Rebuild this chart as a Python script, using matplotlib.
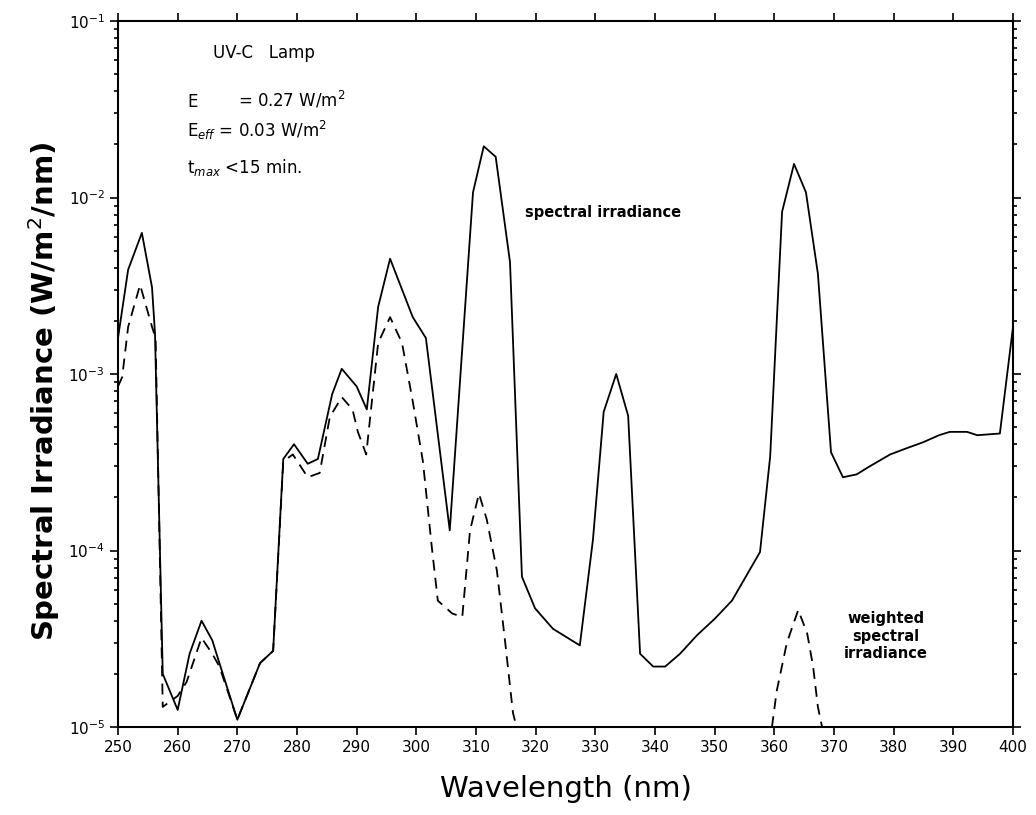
import matplotlib
matplotlib.use("Agg")
import matplotlib.pyplot as plt
from matplotlib.ticker import LogLocator, MultipleLocator
import numpy as np

# spectral irradiance of the UV-C lamp (W/m^2/nm)
wl_total = [250, 251.7, 254, 255.7, 256.2, 257.5, 260, 262, 264, 265.8, 267,
            270, 273.8, 276, 277.7, 279.5, 281.8, 283.5, 285.9, 287.5, 290,
            291.7, 293.6, 295.6, 299.4, 301.6, 305.6, 309.5, 311.3, 313.3,
            315.7, 317.7, 319.9, 322.9, 327.4, 329.6, 331.4, 333.5, 335.5,
            337.5, 339.7, 341.7, 344.2, 347, 350, 352.9, 357.6, 359.3, 361.3,
            363.3, 365.3, 367.3, 369.5, 371.5, 373.8, 376, 379.4, 382.2,
            384.9, 387.6, 389.4, 392.3, 394, 397.8, 400]
irr_total = [1.6e-3, 3.9e-3, 6.3e-3, 3.1e-3, 1.7e-3, 2.0e-5, 1.25e-5, 2.6e-5,
             4.0e-5, 3.1e-5, 2.3e-5, 1.1e-5, 2.3e-5, 2.7e-5, 3.3e-4, 4.0e-4,
             3.1e-4, 3.3e-4, 7.7e-4, 1.07e-3, 8.5e-4, 6.3e-4, 2.4e-3, 4.5e-3,
             2.1e-3, 1.6e-3, 1.3e-4, 1.07e-2, 1.95e-2, 1.7e-2, 4.3e-3, 7.1e-5,
             4.7e-5, 3.6e-5, 2.9e-5, 1.15e-4, 6.1e-4, 1.0e-3, 5.8e-4, 2.6e-5,
             2.2e-5, 2.2e-5, 2.6e-5, 3.3e-5, 4.1e-5, 5.2e-5, 9.8e-5, 3.4e-4,
             8.3e-3, 1.55e-2, 1.07e-2, 3.7e-3, 3.6e-4, 2.6e-4, 2.7e-4, 3.0e-4,
             3.5e-4, 3.8e-4, 4.1e-4, 4.5e-4, 4.7e-4, 4.7e-4, 4.5e-4, 4.6e-4,
             1.85e-3]

# weighted (effective) spectral irradiance, two visible pieces
wl_weighted_a = [250, 250.7, 251.7, 253.7, 255.7, 256.3, 257.5, 260, 261.5,
                 264, 265.8, 267, 270, 273.8, 276, 277.7, 279.3, 281.8, 283.8,
                 285.5, 287.5, 289.3, 290.2, 291.6, 293.6, 295.6, 297.6, 299.4,
                 301.1, 302.6, 303.6, 306, 307.7, 309, 310.5, 311.8, 313.5,
                 314.9, 316.2, 316.8]
irr_weighted_a = [8.5e-4, 9.6e-4, 1.85e-3, 3.2e-3, 1.85e-3, 1.6e-3, 1.3e-5,
                  1.5e-5, 1.8e-5, 3.2e-5, 2.6e-5, 2.2e-5, 1.1e-5, 2.3e-5,
                  2.7e-5, 3.2e-4, 3.5e-4, 2.6e-4, 2.75e-4, 5.7e-4, 7.4e-4,
                  6.3e-4, 4.7e-4, 3.5e-4, 1.5e-3, 2.1e-3, 1.5e-3, 7.0e-4,
                  3.2e-4, 1.04e-4, 5.2e-5, 4.4e-5, 4.2e-5, 1.3e-4, 2.1e-4,
                  1.5e-4, 7.7e-5, 3.0e-5, 1.2e-5, 1.0e-5]
wl_weighted_b = [359.6, 360.4, 362.1, 364, 365.5, 366.5, 367.3, 368]
irr_weighted_b = [1.0e-5, 1.6e-5, 3.0e-5, 4.6e-5, 3.4e-5, 2.2e-5, 1.3e-5, 1.0e-5]

W, H = 1036, 815
fig = plt.figure(figsize=(W / 100, H / 100), dpi=100)
ax = fig.add_axes([118 / W, 1 - 727 / H, (1013 - 118) / W, (727 - 21) / H])

ax.plot(wl_total, irr_total, color="black", lw=1.3)
for wl, irr in [(wl_weighted_a, irr_weighted_a), (wl_weighted_b, irr_weighted_b)]:
    ax.plot(wl, irr, color="black", lw=1.3, linestyle=(0, (6, 4)))

ax.set_yscale("log")
ax.set_xlim(250, 400)
ax.set_ylim(1e-5, 1e-1)
ax.xaxis.set_major_locator(MultipleLocator(10))
ax.yaxis.set_major_locator(LogLocator(base=10, numticks=10))
ax.yaxis.set_minor_locator(LogLocator(base=10, subs=np.arange(2, 10), numticks=10))
ax.tick_params(which="both", direction="out", top=True, right=True,
               labeltop=False, labelright=False, width=1.2)
ax.tick_params(which="major", length=6, labelsize=11)
ax.tick_params(which="minor", length=3)
for s in ax.spines.values():
    s.set_linewidth(1.5)

ax.set_xlabel("Wavelength (nm)", fontsize=21, labelpad=14)
ax.set_ylabel("Spectral Irradiance (W/m$^2$/nm)", fontsize=21,
              fontweight="bold")
ax.yaxis.set_label_coords(-0.063, 0.475)


def ftext(x, y, s, **kw):
    fig.text(x / W, 1 - y / H, s, **kw)


ftext(213, 58, "UV-C   Lamp", fontsize=12, va="baseline")
ftext(187, 107, "E", fontsize=12, va="baseline")
ftext(238, 107, "= 0.27 W/m$^2$", fontsize=12, va="baseline")
ftext(187, 137, "E$_{eff}$ = 0.03 W/m$^2$", fontsize=12, va="baseline")
ftext(187, 173, "t$_{max}$ <15 min.", fontsize=12, va="baseline")
ftext(525, 212, "spectral irradiance", fontsize=10.5, fontweight="bold",
      va="center")
ftext(886, 636, "weighted\nspectral\nirradiance", fontsize=10.5,
      fontweight="bold", ha="center", va="center", linespacing=1.2)

fig.savefig("out.png", dpi=100)
